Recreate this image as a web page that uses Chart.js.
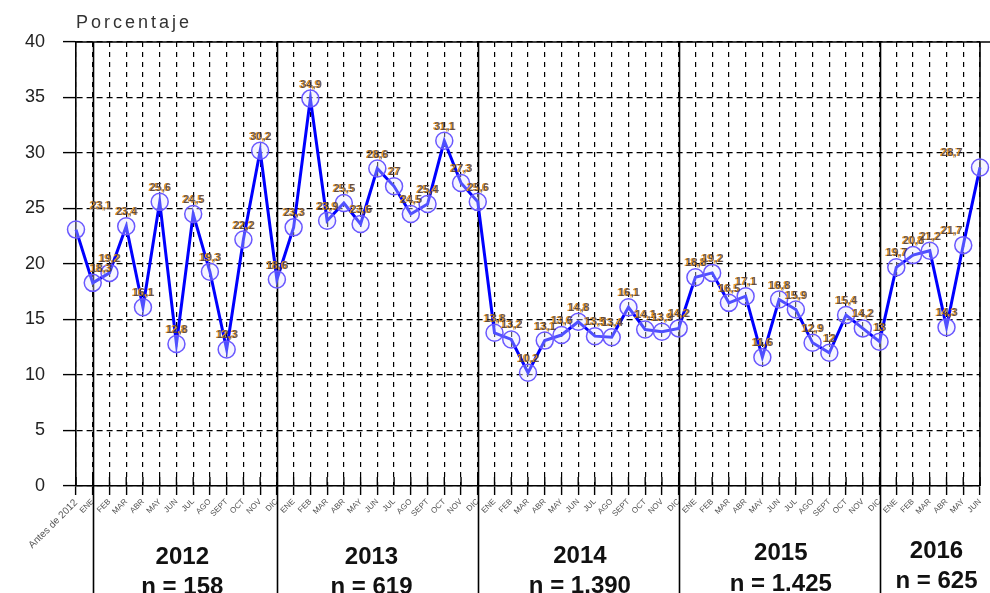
<!DOCTYPE html>
<html><head><meta charset="utf-8">
<script src="https://cdn.jsdelivr.net/npm/chart.js@4.4.0/dist/chart.umd.min.js"></script>
<style>html,body{margin:0;padding:0;background:#fff;}#wrap{width:990px;height:593px;}</style>
</head><body><div id="wrap"><canvas id="c" width="990" height="593"></canvas></div>
<script>
// ---- data ----
const months = ["ENE","FEB","MAR","ABR","MAY","JUN","JUL","AGO","SEPT","OCT","NOV","DIC"];
const firstCategory = ["Antes de 2012"];
const categories = [...firstCategory, ...months, ...months, ...months, ...months, ...months.slice(0, 6)];

const valuesBefore = [23.1];
const values2012 = [18.3, 19.2, 23.4, 16.1, 25.6, 12.8, 24.5, 19.3, 12.3, 22.2, 30.2, 18.6];
const values2013 = [23.3, 34.9, 23.9, 25.5, 23.6, 28.6, 27.0, 24.5, 25.4, 31.1, 27.3, 25.6];
const values2014 = [13.8, 13.2, 10.2, 13.1, 13.6, 14.8, 13.5, 13.4, 16.1, 14.1, 13.9, 14.2];
const values2015 = [18.8, 19.2, 16.5, 17.1, 11.6, 16.8, 15.9, 12.9, 12.0, 15.4, 14.2, 13.0];
const values2016 = [19.7, 20.8, 21.2, 14.3, 21.7, 28.7];
const values = [...valuesBefore, ...values2012, ...values2013, ...values2014, ...values2015, ...values2016];

const yTicks = [0, 5, 10, 15, 20, 25, 30, 35, 40];
const yearNames = ["2012", "2013", "2014", "2015", "2016"];
const yearCounts = ["n = 158", "n = 619", "n = 1.390", "n = 1.425", "n = 625"];
const axisTitle = "Porcentaje";

// ---- layout constants (not data) ----
const separatorIdx = [1, 12, 24, 36, 48];
const yearCenterIdx = [6.35, 17.65, 30.1, 42.1, 51.4];
const yearBase = [564, 564, 563, 560, 558];
const countBase = [594, 594, 593, 591, 588];

const fmt = v => (Math.round(v * 10) / 10).toString().replace('.', ',');

const decor = {
  id: 'decor',
  beforeDatasetsDraw(chart) {
    const ctx = chart.ctx, a = chart.chartArea, xs = chart.scales.x;
    ctx.save();
    ctx.strokeStyle = '#000';
    ctx.lineWidth = 1.6;
    separatorIdx.forEach(i => {
      const x = Math.round(xs.getPixelForValue(i)) + 0.5;
      ctx.beginPath(); ctx.moveTo(x, a.top); ctx.lineTo(x, 593); ctx.stroke();
    });
    ctx.beginPath(); ctx.moveTo(a.left, a.top); ctx.lineTo(990, a.top); ctx.stroke();
    ctx.beginPath(); ctx.moveTo(a.right, a.top); ctx.lineTo(a.right, a.bottom); ctx.stroke();
    ctx.lineWidth = 1.4;
    for (let i = 0; i < categories.length; i++) {
      const x = xs.getPixelForValue(i);
      ctx.beginPath(); ctx.moveTo(x, a.bottom - 9); ctx.lineTo(x, a.bottom); ctx.stroke();
    }
    ctx.restore();
  },
  afterDatasetsDraw(chart) {
    const ctx = chart.ctx, a = chart.chartArea;
    const meta = chart.getDatasetMeta(0);
    ctx.save();
    ctx.font = 'bold 11px "Liberation Sans"';
    ctx.textAlign = 'center';
    ctx.textBaseline = 'alphabetic';
    meta.data.forEach((pt, i) => {
      const t = fmt(values[i]);
      const w = ctx.measureText(t).width;
      let x = pt.x;
      let y = pt.y - 11;
      if (x - w / 2 < a.left + 14) x = a.left + 24 + w / 2 - 10;
      if (x + w / 2 > a.right - 18) x = a.right - 18 - w / 2;
      if (i === 0) y = pt.y - 21;
      ctx.fillStyle = '#f09a20';
      ctx.fillText(t, x - 0.8, y);
      ctx.fillStyle = 'rgba(50,45,70,0.75)';
      ctx.fillText(t, x + 0.7, y);
    });
    ctx.restore();
  },
  afterDraw(chart) {
    const ctx = chart.ctx, xs = chart.scales.x;
    ctx.save();
    ctx.fillStyle = '#333';
    ctx.font = '18px "Liberation Sans"';
    ctx.textAlign = 'left';
    ctx.textBaseline = 'alphabetic';
    try { ctx.letterSpacing = '3px'; } catch (e) {}
    ctx.fillText(axisTitle, 76, 28);
    try { ctx.letterSpacing = '0px'; } catch (e) {}
    ctx.fillStyle = '#111';
    ctx.font = 'bold 24px "Liberation Sans"';
    ctx.textAlign = 'center';
    yearNames.forEach((yn, k) => {
      const x = xs.getPixelForValue(yearCenterIdx[k]);
      ctx.fillText(yn, x, yearBase[k]);
      ctx.fillText(yearCounts[k], x, countBase[k]);
    });
    ctx.restore();
  }
};

new Chart(document.getElementById('c'), {
  type: 'line',
  data: {
    labels: categories,
    datasets: [{
      data: values,
      borderColor: '#0000ff',
      borderWidth: 3,
      tension: 0,
      fill: false,
      pointRadius: 8.5,
      pointBorderColor: '#6a58ff',
      pointBorderWidth: 1.5,
      pointBackgroundColor: 'rgba(225,225,255,0.35)'
    }]
  },
  options: {
    responsive: false,
    animation: false,
    layout: { padding: { top: 42, left: 0, right: 0, bottom: 0 } },
    plugins: { legend: { display: false }, tooltip: { enabled: false } },
    scales: {
      x: {
        type: 'category',
        offset: false,
        grid: { color: '#000', lineWidth: 1.2, drawTicks: true, tickLength: 9, tickColor: '#000', tickWidth: 1.4 },
        border: { display: true, color: '#000', width: 1.6, dash: [5, 5] },
        ticks: {
          autoSkip: false, maxRotation: 45, minRotation: 45, padding: 2, color: '#555',
          font: c => ({ family: 'Liberation Sans', size: c.index === 0 ? 10 : 8 })
        },
        afterFit: s => { s.height = 107; s.paddingLeft = 0; s.paddingRight = 3; }
      },
      y: {
        min: 0, max: 40,
        afterBuildTicks: s => { s.ticks = yTicks.map(v => ({ value: v })); },
        ticks: { padding: 18, color: '#222', font: { family: 'Liberation Sans', size: 18 } },
        grid: { color: '#000', lineWidth: 1.2, tickLength: 13, tickColor: '#000', tickWidth: 1.4 },
        border: { display: true, color: '#000', width: 1.6, dash: [6, 4] },
        afterFit: s => { s.width = 76; }
      }
    }
  },
  plugins: [decor]
});
</script>
</body></html>
